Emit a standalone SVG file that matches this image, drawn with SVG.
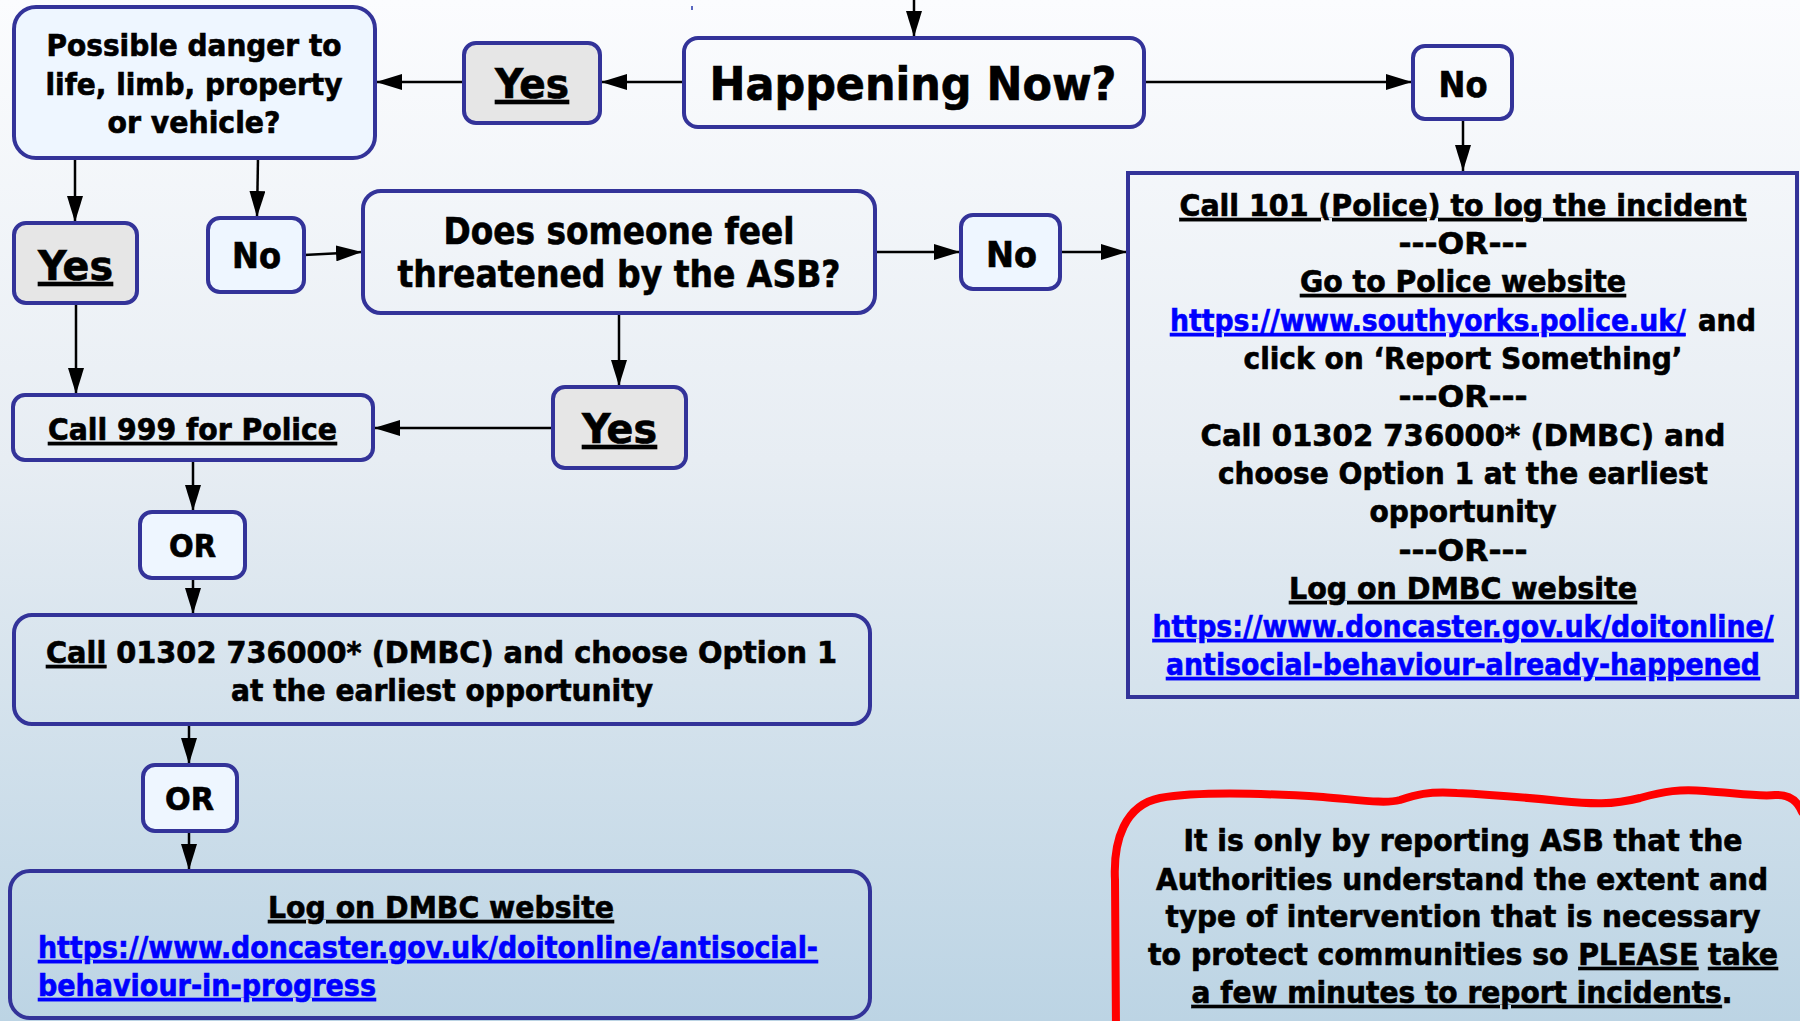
<svg xmlns="http://www.w3.org/2000/svg" width="1800" height="1021" viewBox="0 0 1800 1021">
<defs>
<linearGradient id="bg" x1="0" y1="0" x2="0" y2="1">
<stop offset="0" stop-color="#fbfcfe"/>
<stop offset="0.45" stop-color="#e7edf3"/>
<stop offset="1" stop-color="#bcd4e4"/>
</linearGradient>
<marker id="ah" markerUnits="userSpaceOnUse" markerWidth="26" markerHeight="16" refX="26" refY="8" orient="auto">
<path d="M0,0 L26,8 L0,16 z" fill="#000"/>
</marker>
<style>
.box{stroke:#333399;stroke-width:4;fill:none}
.lt{fill:#eef6ff}
.gy{fill:#e6e6e6}
.t{font-family:"DejaVu Sans Condensed","DejaVu Sans",sans-serif;font-weight:bold;font-stretch:condensed;fill:#000;stroke:#000;stroke-width:0.6}
.m{text-anchor:middle}
.u{text-decoration:underline}
.lk{fill:#0000ff;stroke:#0000ff;text-decoration:underline}
.c{stroke:#000;stroke-width:2.5;fill:none;marker-end:url(#ah)}
</style>
</defs>
<rect x="0" y="0" width="1800" height="1021" fill="url(#bg)"/>
<rect x="691" y="6" width="2" height="4" fill="#5a67c0"/>

<g id="connectors">
<line class="c" x1="914" y1="0" x2="914" y2="37"/>
<line class="c" x1="684" y1="82" x2="601" y2="82"/>
<line class="c" x1="464" y1="82" x2="376" y2="82"/>
<line class="c" x1="1144" y1="82" x2="1412" y2="82"/>
<line class="c" x1="1463" y1="119" x2="1463" y2="171"/>
<line class="c" x1="75" y1="158" x2="75" y2="222"/>
<line class="c" x1="258" y1="158" x2="257" y2="217"/>
<line class="c" x1="304" y1="255" x2="362" y2="252"/>
<line class="c" x1="875" y1="252" x2="960" y2="252"/>
<line class="c" x1="1060" y1="252" x2="1127" y2="252"/>
<line class="c" x1="619" y1="313" x2="619" y2="386"/>
<line class="c" x1="553" y1="428" x2="374" y2="428"/>
<line class="c" x1="76" y1="303" x2="76" y2="394"/>
<line class="c" x1="193" y1="460" x2="193" y2="511"/>
<line class="c" x1="193" y1="578" x2="193" y2="614"/>
<line class="c" x1="189" y1="724" x2="189" y2="764"/>
<line class="c" x1="189" y1="831" x2="189" y2="870"/>
</g>

<g id="possible">
<rect class="box lt" x="14" y="7" width="361" height="151" rx="22"/>
<text class="t m" font-size="30" x="194" y="56" textLength="295" lengthAdjust="spacingAndGlyphs">Possible danger to</text>
<text class="t m" font-size="30" x="194" y="95" textLength="297" lengthAdjust="spacingAndGlyphs">life, limb, property</text>
<text class="t m" font-size="30" x="194" y="133" textLength="173" lengthAdjust="spacingAndGlyphs">or vehicle?</text>
</g>

<g id="yes-top">
<rect class="box gy" x="464" y="43" width="136" height="80" rx="12"/>
<text class="t m u" font-size="40" x="532" y="98" textLength="74" lengthAdjust="spacingAndGlyphs">Yes</text>
</g>

<g id="happening">
<rect class="box" x="684" y="38" width="460" height="89" rx="14"/>
<text class="t m" font-size="47" x="913" y="100" textLength="407" lengthAdjust="spacingAndGlyphs">Happening Now?</text>
</g>

<g id="no-top">
<rect class="box" x="1413" y="46" width="99" height="73" rx="12"/>
<text class="t m" font-size="36" x="1463" y="97" textLength="49" lengthAdjust="spacingAndGlyphs">No</text>
</g>

<g id="report-box">
<rect class="box" x="1128" y="173" width="669" height="524"/>
<text class="t m" font-size="31" x="1463" y="216" textLength="567" lengthAdjust="spacingAndGlyphs"><tspan class="u">Call 101 (Police) to log the incident</tspan></text>
<text class="t m" font-size="31" x="1463" y="254" textLength="129" lengthAdjust="spacingAndGlyphs">---OR---</text>
<text class="t m" font-size="31" x="1463" y="292" textLength="326" lengthAdjust="spacingAndGlyphs"><tspan class="u">Go to Police website</tspan></text>
<text class="t lk" font-size="31" transform="translate(1170,331) scale(0.957,1)" x="0" y="0">https://www.southyorks.police.uk/</text>
<text class="t" font-size="31" x="1698" y="331" textLength="58" lengthAdjust="spacingAndGlyphs">and</text>
<text class="t m" font-size="31" x="1463" y="369" textLength="439" lengthAdjust="spacingAndGlyphs">click on ‘Report Something’</text>
<text class="t m" font-size="31" x="1463" y="407" textLength="129" lengthAdjust="spacingAndGlyphs">---OR---</text>
<text class="t m" font-size="31" x="1463" y="446" textLength="525" lengthAdjust="spacingAndGlyphs">Call 01302 736000* (DMBC) and</text>
<text class="t m" font-size="31" x="1463" y="484" textLength="490" lengthAdjust="spacingAndGlyphs">choose Option 1 at the earliest</text>
<text class="t m" font-size="31" x="1463" y="522" textLength="187" lengthAdjust="spacingAndGlyphs">opportunity</text>
<text class="t m" font-size="31" x="1463" y="561" textLength="129" lengthAdjust="spacingAndGlyphs">---OR---</text>
<text class="t m" font-size="31" x="1463" y="599" textLength="348" lengthAdjust="spacingAndGlyphs"><tspan class="u">Log on DMBC website</tspan></text>
<text class="t m" font-size="31" x="1463" y="637" textLength="621" lengthAdjust="spacingAndGlyphs"><tspan class="lk">https://www.doncaster.gov.uk/doitonline/</tspan></text>
<text class="t m" font-size="31" x="1463" y="675" textLength="594" lengthAdjust="spacingAndGlyphs"><tspan class="lk">antisocial-behaviour-already-happened</tspan></text>
</g>

<g id="yes-left">
<rect class="box gy" x="14" y="223" width="123" height="80" rx="12"/>
<text class="t m u" font-size="40" x="75.5" y="280" textLength="75" lengthAdjust="spacingAndGlyphs">Yes</text>
</g>

<g id="no-left">
<rect class="box lt" x="208" y="218" width="96" height="74" rx="12"/>
<text class="t m" font-size="36" x="256.5" y="268" textLength="49" lengthAdjust="spacingAndGlyphs">No</text>
</g>

<g id="threatened">
<rect class="box" x="363" y="191" width="512" height="122" rx="18"/>
<text class="t m" font-size="38" x="619" y="244" textLength="351" lengthAdjust="spacingAndGlyphs">Does someone feel</text>
<text class="t m" font-size="38" x="619" y="287" textLength="443" lengthAdjust="spacingAndGlyphs">threatened by the ASB?</text>
</g>

<g id="no-mid">
<rect class="box lt" x="961" y="215" width="99" height="74" rx="12"/>
<text class="t m" font-size="36" x="1011.5" y="267" textLength="51" lengthAdjust="spacingAndGlyphs">No</text>
</g>

<g id="yes-low">
<rect class="box gy" x="553" y="387" width="133" height="81" rx="12"/>
<text class="t m u" font-size="40" x="619.5" y="443" textLength="75" lengthAdjust="spacingAndGlyphs">Yes</text>
</g>

<g id="call999">
<rect class="box" x="13" y="395" width="360" height="65" rx="12"/>
<text class="t m" font-size="31" x="192.5" y="440" textLength="289" lengthAdjust="spacingAndGlyphs"><tspan class="u">Call 999 for Police</tspan></text>
</g>

<g id="or1">
<rect class="box lt" x="140" y="512" width="105" height="66" rx="12"/>
<text class="t m" font-size="32" x="192.5" y="557" textLength="47" lengthAdjust="spacingAndGlyphs">OR</text>
</g>

<g id="call-dmbc">
<rect class="box" x="14" y="615" width="856" height="109" rx="18"/>
<text class="t m" font-size="31" x="441.5" y="663" textLength="791" lengthAdjust="spacingAndGlyphs"><tspan class="u">Call</tspan> 01302 736000* (DMBC) and choose Option 1</text>
<text class="t m" font-size="31" x="442" y="701" textLength="422" lengthAdjust="spacingAndGlyphs">at the earliest opportunity</text>
</g>

<g id="or2">
<rect class="box lt" x="143" y="765" width="94" height="66" rx="12"/>
<text class="t m" font-size="32" x="189.5" y="810" textLength="49" lengthAdjust="spacingAndGlyphs">OR</text>
</g>

<g id="log-dmbc">
<rect class="box" x="10" y="871" width="860" height="147" rx="20"/>
<text class="t m" font-size="31" x="441" y="918" textLength="346" lengthAdjust="spacingAndGlyphs"><tspan class="u">Log on DMBC website</tspan></text>
<text class="t" font-size="31" x="38" y="958" textLength="780" lengthAdjust="spacingAndGlyphs"><tspan class="lk">https://www.doncaster.gov.uk/doitonline/antisocial-</tspan></text>
<text class="t" font-size="31" x="38" y="996" textLength="338" lengthAdjust="spacingAndGlyphs"><tspan class="lk">behaviour-in-progress</tspan></text>
</g>

<g id="note">
<path d="M1116,1030 L1115,880 C1113,840 1125,805 1160,798 C1200,791 1260,793 1323,797 C1360,800 1385,804 1400,800 C1415,795 1428,791 1457,793 C1500,795 1530,798 1560,801 C1592,804 1612,805 1640,798 C1665,791 1680,789 1705,791 C1735,793 1760,797 1775,795 C1790,794 1798,802 1802,812" fill="none" stroke="#ff0000" stroke-width="8" stroke-linecap="round" stroke-linejoin="round"/>
<text class="t m" font-size="30" x="1463" y="851" textLength="559" lengthAdjust="spacingAndGlyphs">It is only by reporting ASB that the</text>
<text class="t m" font-size="30" x="1462" y="890" textLength="612" lengthAdjust="spacingAndGlyphs">Authorities understand the extent and</text>
<text class="t m" font-size="30" x="1463" y="927" textLength="595" lengthAdjust="spacingAndGlyphs">type of intervention that is necessary</text>
<text class="t m" font-size="30" x="1463" y="965" textLength="630" lengthAdjust="spacingAndGlyphs">to protect communities so <tspan class="u">PLEASE</tspan> <tspan class="u">take</tspan></text>
<text class="t m" font-size="30" x="1462" y="1003" textLength="541" lengthAdjust="spacingAndGlyphs"><tspan class="u">a few minutes to report incidents</tspan>.</text>
</g>
</svg>
